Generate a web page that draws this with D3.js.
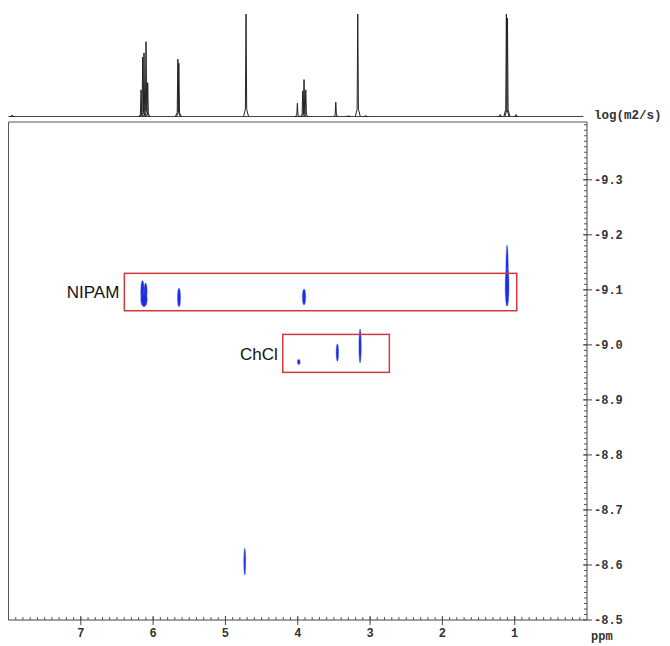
<!DOCTYPE html>
<html>
<head>
<meta charset="utf-8">
<script src="https://cdn.jsdelivr.net/npm/d3@7"></script>
<style>
  body { margin: 0; background: #fff; }
  svg { display: block; }
</style>
</head>
<body>
<svg id="dosy"></svg>
<script>
// 1D proton spectrum on top: [ppm, relative height]
const peakPpm    = [7.95, 6.167, 6.144, 6.126, 6.098, 6.075, 5.658, 5.644, 4.715, 4.005, 3.931, 3.913, 3.889, 3.474, 3.30, 3.17, 3.06, 1.20, 1.115, 1.100, 0.98];
const peakHeight = [1.5,  26,    58,    62,    73,    33,    56,    52,    100,   13,    25,    36,    26,    14,    1,    100,  1,    2,    100,   96,    2];

// 2D DOSY spots: centre ppm, centre log(D), half width (ppm), half height (log D)
const spotPpm  = [6.147, 6.104, 6.126, 5.642, 3.913, 1.105, 1.105, 3.986, 3.452, 3.138, 4.733];
const spotLogD = [-9.096, -9.097, -9.082, -9.086, -9.087, -9.126, -9.105, -8.969, -8.986, -8.998, -8.606];
const spotHalfW = [0.025, 0.022, 0.045, 0.022, 0.024, 0.018, 0.027, 0.020, 0.018, 0.017, 0.014];
const spotHalfH = [0.021, 0.0155, 0.0127, 0.0173, 0.0145, 0.0555, 0.0345, 0.005, 0.016, 0.031, 0.0245];

// annotation boxes
const boxLabel = ["NIPAM", "ChCl"];
const boxPpm   = [[6.398, 0.971], [4.207, 2.733]];
const boxLogD  = [[-9.130, -9.062], [-9.019, -8.950]];

const xTicks = [1, 2, 3, 4, 5, 6, 7];
const yTicks = [-9.3, -9.2, -9.1, -9.0, -8.9, -8.8, -8.7, -8.6, -8.5];

const W = 670, H = 646;
const plot = { left: 8.5, right: 587, top: 122, bottom: 620 };

const svg = d3.select("#dosy").attr("width", W).attr("height", H);

const x = d3.scaleLinear().domain([8, 0]).range([plot.left, plot.right]);
const y = d3.scaleLinear().domain([-9.405, -8.5]).range([plot.top, plot.bottom]);
const yS = d3.scaleLinear().domain([0, 100]).range([116.5, 14]);

const mono = "'Liberation Mono', 'Courier New', monospace";

// ---------- top spectrum ----------
const spec = svg.append("g").attr("class", "spectrum");
spec.append("line")
  .attr("x1", x(8)).attr("x2", x(0.05))
  .attr("y1", yS(0)).attr("y2", yS(0))
  .attr("stroke", "#444").attr("stroke-width", 1);

const peakLine = d3.line().x(d => x(d[0])).y(d => yS(d[1]));
spec.selectAll("path.peak")
  .data(peakPpm.map((p, i) => [p, peakHeight[i]]))
  .enter().append("path")
  .attr("class", "peak")
  .attr("d", d => peakLine([[d[0] + 0.035, 0], [d[0] + 0.009, d[1] * 0.07], [d[0], d[1]], [d[0] - 0.009, d[1] * 0.07], [d[0] - 0.035, 0]]))
  .attr("fill", "none")
  .attr("stroke", "#222")
  .attr("stroke-width", 1);

// ---------- frame ----------
const frame = svg.append("g").attr("fill", "none").attr("stroke", "#555").attr("stroke-width", 1);
frame.append("line").attr("x1", plot.left).attr("x2", plot.right).attr("y1", plot.top).attr("y2", plot.top);
frame.append("line").attr("x1", plot.left).attr("x2", plot.left).attr("y1", plot.top).attr("y2", plot.bottom);

// ---------- bottom axis ----------
const xAxis = svg.append("g").attr("class", "x axis");
xAxis.append("line")
  .attr("x1", plot.left).attr("x2", plot.right)
  .attr("y1", plot.bottom).attr("y2", plot.bottom)
  .attr("stroke", "#444");
xAxis.selectAll("line.minor")
  .data(d3.range(1, 80).map(i => i / 10))
  .enter().append("line")
  .attr("class", "minor")
  .attr("x1", d => x(d)).attr("x2", d => x(d))
  .attr("y1", plot.bottom - 3).attr("y2", plot.bottom)
  .attr("stroke", "#555");
xAxis.selectAll("line.major")
  .data(xTicks)
  .enter().append("line")
  .attr("class", "major")
  .attr("x1", d => x(d)).attr("x2", d => x(d))
  .attr("y1", plot.bottom - 4).attr("y2", plot.bottom + 5)
  .attr("stroke", "#444");
xAxis.selectAll("text")
  .data(xTicks)
  .enter().append("text")
  .attr("x", d => x(d)).attr("y", 637)
  .attr("text-anchor", "middle")
  .style("font-family", mono).style("font-size", "12px").style("font-weight", "bold")
  .attr("fill", "#333")
  .text(d => d);

// ---------- right axis ----------
const yAxis = svg.append("g").attr("class", "y axis");
yAxis.append("line")
  .attr("x1", plot.right).attr("x2", plot.right)
  .attr("y1", plot.top).attr("y2", plot.bottom)
  .attr("stroke", "#444");
yAxis.selectAll("line.minor")
  .data(d3.range(-940, -850).map(i => i / 100))
  .enter().append("line")
  .attr("class", "minor")
  .attr("x1", plot.right - 3).attr("x2", plot.right)
  .attr("y1", d => y(d)).attr("y2", d => y(d))
  .attr("stroke", "#555");
yAxis.selectAll("line.major")
  .data(yTicks)
  .enter().append("line")
  .attr("class", "major")
  .attr("x1", plot.right - 4).attr("x2", plot.right + 5)
  .attr("y1", d => y(d)).attr("y2", d => y(d))
  .attr("stroke", "#444");
yAxis.selectAll("text")
  .data(yTicks)
  .enter().append("text")
  .attr("x", 594).attr("y", d => y(d))
  .attr("dy", "0.35em")
  .style("font-family", mono).style("font-size", "12px").style("font-weight", "bold")
  .attr("fill", "#333")
  .text(d => d3.format(".1f")(d).replace("\u2212", "-"));

svg.append("text")
  .attr("x", 594).attr("y", 119)
  .style("font-family", mono).style("font-size", "12.5px").style("font-weight", "bold")
  .attr("fill", "#333")
  .text("log(m2/s)");
svg.append("text")
  .attr("x", 591).attr("y", 640)
  .style("font-family", mono).style("font-size", "12px").style("font-weight", "bold")
  .attr("fill", "#333")
  .text("ppm");

// ---------- DOSY spots ----------
svg.append("g").attr("class", "spots")
  .selectAll("ellipse")
  .data(spotPpm.map((p, i) => ({ p, d: spotLogD[i], w: spotHalfW[i], h: spotHalfH[i] })))
  .enter().append("ellipse")
  .attr("cx", d => x(d.p))
  .attr("cy", d => y(d.d))
  .attr("rx", d => Math.abs(x(d.p + d.w) - x(d.p)))
  .attr("ry", d => y(d.d + d.h) - y(d.d))
  .attr("fill", "#1b2de4")
  .attr("stroke", "#5a68ee")
  .attr("stroke-width", 0.4);

// ---------- boxes + labels ----------
const boxes = svg.append("g").attr("class", "boxes");
boxLabel.forEach((lab, i) => {
  const x0 = x(boxPpm[i][0]), x1 = x(boxPpm[i][1]);
  const y0 = y(boxLogD[i][0]), y1 = y(boxLogD[i][1]);
  boxes.append("rect")
    .attr("x", x0).attr("y", y0)
    .attr("width", x1 - x0).attr("height", y1 - y0)
    .attr("fill", "none")
    .attr("stroke", "#d0393b")
    .attr("stroke-width", 1.5);
  boxes.append("text")
    .attr("x", x0 - 5).attr("y", (y0 + y1) / 2)
    .attr("dy", "0.36em")
    .attr("text-anchor", "end")
    .style("font-family", "'Liberation Sans', Arial, sans-serif")
    .style("font-size", "17px")
    .attr("fill", "#111")
    .text(lab);
});
</script>
</body>
</html>
